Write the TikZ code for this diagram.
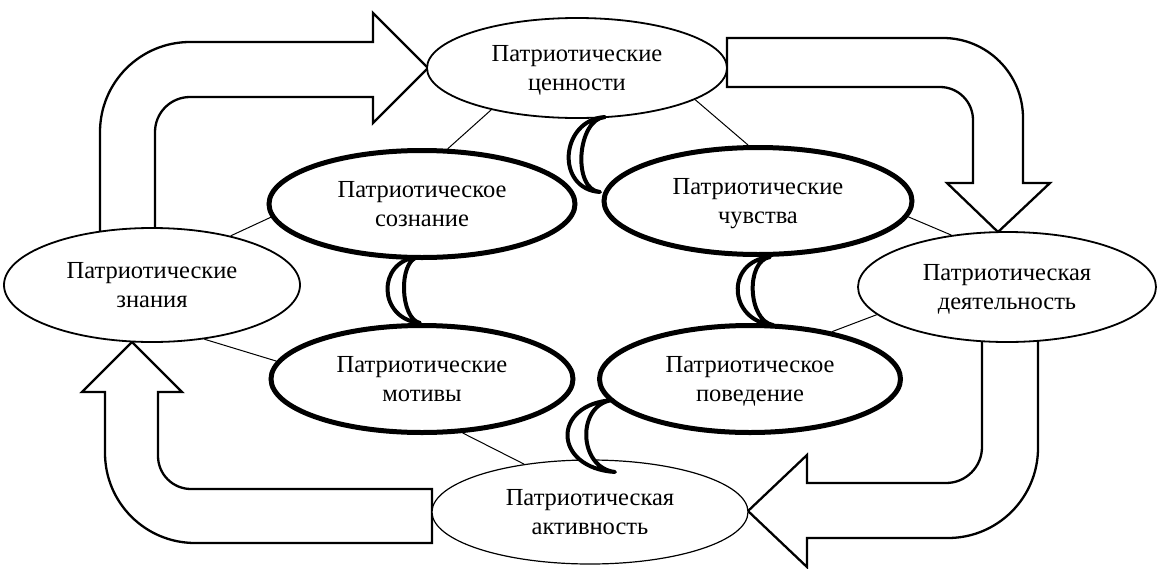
\documentclass[tikz,border=0pt]{standalone}
\usepackage{fontspec}
\setmainfont{Liberation Serif}
\usetikzlibrary{shapes.geometric}
\begin{document}
\begin{tikzpicture}[x=1pt,y=-1pt,
  lbl/.style={font=\fontsize{24.5}{29.5}\selectfont, align=center, text depth=0pt},
  thinell/.style={ellipse, draw, fill=white, line width=1.8pt, inner sep=0pt, lbl},
  thickell/.style={ellipse, draw, fill=white, line width=5pt, inner sep=0pt, lbl, minimum height=107pt},
  link/.style={line width=1pt},
  bigarrow/.style={draw, fill=white, line width=2.3pt, line join=miter},
  moon/.style={draw, fill=white, line width=4pt, line join=round}
]
\useasboundingbox (0,0) rectangle (1160,568);

% block arrows
\path[bigarrow] (100,232) -- (100,132) arc[start angle=180, end angle=270, radius=90]
  -- (373,42) -- (373,13) -- (428,68) -- (373,123) -- (373,97) -- (190,97)
  arc[start angle=270, end angle=180, radius=35] -- (155,232) -- cycle;
\path[bigarrow] (727,38) -- (943,38) arc[start angle=270, end angle=360, radius=80]
  -- (1023,183) -- (1050,183) -- (998,232) -- (947,183) -- (973,183) -- (973,120)
  arc[start angle=0, end angle=-90, radius=33] -- (727,87) -- cycle;
\path[bigarrow] (982,340) -- (982,447) arc[start angle=0, end angle=90, radius=36]
  -- (807,483) -- (807,455) -- (748,511) -- (807,567) -- (807,538) -- (948,538)
  arc[start angle=90, end angle=0, radius=90] -- (1038,340) -- cycle;
\path[bigarrow] (432,489) -- (191,489) arc[start angle=90, end angle=180, radius=33]
  -- (158,392) -- (182,392) -- (132,342) -- (82,392) -- (105,392) -- (105,453)
  arc[start angle=180, end angle=90, radius=90] -- (432,543) -- cycle;

% outer ellipses
\node[thinell, minimum width=300pt, minimum height=100pt] (cen) at (577,68) {Патриотические\\ценности};
\node[thinell, minimum width=296pt, minimum height=114pt] (zna) at (152,285) {Патриотические\\знания};
\node[thinell, minimum width=298pt, minimum height=110pt] (dey) at (1007,287) {Патриотическая\\деятельность};
\node[thinell, line width=1.2pt, minimum width=316pt, minimum height=104pt] (akt) at (590,512) {Патриотическая\\активность};

% inner thick ellipses
\node[thickell, minimum width=306pt] (soz) at (422,204) {Патриотическое\\сознание};
\node[thickell, minimum width=308pt] (chu) at (758,201) {Патриотические\\чувства};
\node[thickell, minimum width=302pt] (mot) at (422,379) {Патриотические\\мотивы};
\node[thickell, minimum width=301pt] (pov) at (750,379) {Патриотическое\\поведение};

% thin links
\draw[link] (cen.-154) -- (soz.65);
\draw[link] (cen.-15) -- (chu.100);
\draw[link] (chu.-6) -- (dey.137);
\draw[link] (zna.32) -- (soz.185);
\draw[link] (zna.-46) -- (mot.173);
\draw[link] (mot.-53) -- (akt.144);
\draw[link] (pov.30) -- (dey.192);

% crescents
\path[moon] (605,117) .. controls (560,120) and (555,189) .. (600,192)
  .. controls (572,190) and (577,119) .. (605,117) -- cycle;
\path[moon] (418,257) .. controls (376,261) and (378,319) .. (420,323)
  .. controls (400,319) and (398,261) .. (418,257) -- cycle;
\path[moon] (770,257) .. controls (725,261) and (728,321) .. (773,325)
  .. controls (748,321) and (745,261) .. (770,257) -- cycle;
\path[moon] (613,400) .. controls (551,404) and (553,468) .. (615,472)
  .. controls (578,468) and (576,404) .. (613,400) -- cycle;
\end{tikzpicture}
\end{document}
